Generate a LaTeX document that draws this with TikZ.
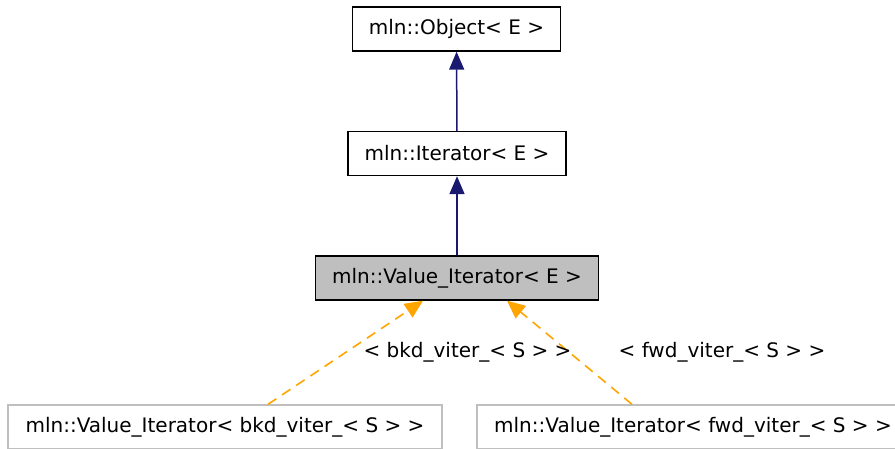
\documentclass[tikz,border=0pt]{standalone}
\usepackage{fontspec}
\setmainfont{DejaVu Sans}
\usepackage{xcolor}
\usepackage{tikz}
\usetikzlibrary{arrows.meta}
\definecolor{cEdge}{HTML}{191970}
\definecolor{cTmpl}{HTML}{FFA500}
\definecolor{cCur}{HTML}{BFBFBF}
\definecolor{cFaint}{HTML}{BFBFBF}
\tikzset{
  cls/.style={draw=black, line width=1.4pt, fill=white, inner sep=0pt,
              minimum height=44pt, font=\fontsize{20}{23}\selectfont},
  curcls/.style={cls, fill=cCur},
  faintcls/.style={cls, draw=cFaint},
  inh/.style={-{Triangle[length=18pt, width=15pt]}, line width=1.5pt, cEdge},
  tmpl/.style={-{Triangle[length=18pt, width=16pt]}, line width=1.6pt, cTmpl,
               dash pattern=on 10pt off 7pt},
  lbl/.style={font=\fontsize{20}{23}\selectfont, text=black}
}
\begin{document}
\begin{tikzpicture}[x=1pt, y=-1pt]
\useasboundingbox (0,0) rectangle (895,448);
\clip (0,0) rectangle (895,448);
% class boxes
\node[cls, minimum width=208pt] (obj) at (456.5,29) {mln::Object< E >};
\node[cls, minimum width=218pt] (iter) at (457,153.5) {mln::Iterator< E >};
\node[curcls, minimum width=283pt] (valiter) at (457,278) {mln::Value\_Iterator< E >};
\node[faintcls, minimum width=434pt] (bkd) at (225,427) {mln::Value\_Iterator< bkd\_viter\_< S > >};
\node[faintcls, minimum width=432pt] (fwd) at (693,427) {mln::Value\_Iterator< fwd\_viter\_< S > >};
% inheritance
\draw[inh] (iter) -- (obj);
\draw[inh] (valiter) -- (iter);
% template instances
\draw[tmpl] ([xshift=43pt]bkd.north) -- ([xshift=-34pt]valiter.south);
\draw[tmpl] ([xshift=-61pt]fwd.north) -- ([xshift=50pt]valiter.south);
\node[lbl] (bkdlbl) at (467.5,352) {< bkd\_viter\_< S > >};
\node[lbl] (fwdlbl) at (722,352) {< fwd\_viter\_< S > >};
\end{tikzpicture}
\end{document}
